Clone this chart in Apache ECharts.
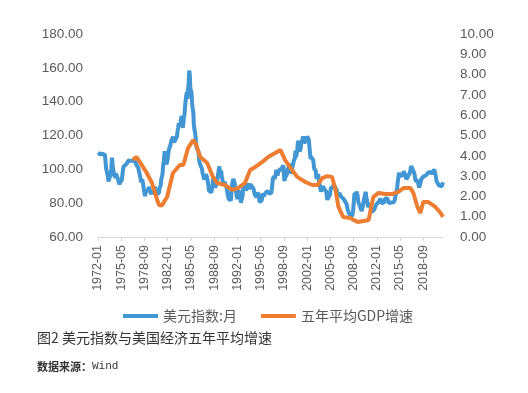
<!DOCTYPE html>
<html><head><meta charset="utf-8">
<script src="https://cdn.jsdelivr.net/npm/echarts@6/dist/echarts.min.js"></script>
<style>html,body{margin:0;padding:0;background:#fff}#c{width:528px;height:393px}</style>
</head><body><div id="c"></div>
<script>
// Monthly categories 1972-01 .. 2021-07
const startYear = 1972, endYear = 2021, endMonth = 7;
const months = [];
for (let y = startYear; y <= endYear; y++) {
  for (let m = 1; m <= 12; m++) {
    if (y === endYear && m > endMonth) break;
    months.push(y + '-' + (m < 10 ? '0' + m : m));
  }
}
// 美元指数:月 (left axis), one row per year
const dollarIndex = [
  109.9,109.0,108.9,109.5,108.9,109.3,108.6,108.8,109.2,109.5,109.8,109.9, // 1972
  108.5,104.5,100.5,98.9,97.3,95.9,92.8,93.6,93.3,93.0,97.3,100.7,        // 1973
  106.9,103.0,100.4,98.3,96.3,96.2,95.1,97.5,98.3,96.6,94.6,93.5,         // 1974
  92.3,91.0,92.4,93.1,92.4,93.6,96.6,99.6,101.6,101.3,101.2,102.4,        // 1975
  102.8,102.7,103.7,104.1,105.3,105.2,105.2,105.3,105.0,104.8,104.9,105.0, // 1976
  105.1,105.6,105.6,105.3,105.4,104.3,102.6,102.7,102.6,101.2,100.8,98.3, // 1977
  96.6,94.9,92.3,93.3,94.2,93.3,90.8,87.9,87.6,84.1,86.6,86.8,            // 1978
  86.8,87.7,88.0,88.7,89.5,89.2,86.7,86.7,85.3,87.3,87.3,85.3,            // 1979
  85.0,85.9,89.7,89.4,86.8,85.2,84.1,84.9,84.7,86.1,88.8,89.8,            // 1980
  90.6,94.2,95.6,96.9,101.7,104.4,107.9,110.7,106.6,104.2,102.9,103.4,    // 1981
  106.1,109.3,111.5,112.1,110.9,114.8,116.8,117.5,118.2,119.4,120.2,115.9, // 1982
  116.3,117.3,117.4,118.4,119.5,122.5,124.7,127.3,125.7,124.6,127.2,129.9, // 1983
  131.6,127.2,124.5,127.4,131.1,132.3,137.6,138.1,143.9,145.5,141.6,147.2, // 1984
  150.4,158.4,156.2,147.8,148.6,145.4,139.1,135.9,134.3,126.7,123.5,122.3, // 1985
  119.2,114.3,112.5,113.0,112.2,110.4,106.0,103.8,104.0,103.1,103.0,100.4, // 1986
  97.8,97.6,97.0,94.0,93.8,95.6,97.2,96.6,95.0,95.0,90.6,87.5,            // 1987
  87.6,88.3,86.6,86.3,87.1,89.6,93.7,95.4,95.0,92.5,89.1,90.1,            // 1988
  92.6,92.3,94.9,95.2,100.1,101.8,97.6,98.7,99.3,95.9,94.3,92.1,          // 1989
  90.8,90.5,92.6,92.0,90.6,91.1,88.2,85.6,85.0,82.6,82.4,83.0,            // 1990
  82.4,81.6,88.5,91.2,91.2,94.4,94.6,92.2,90.0,89.3,86.0,83.8,            // 1991
  82.4,85.3,87.6,87.0,85.6,83.6,80.3,79.5,80.1,84.6,88.9,88.2,            // 1992
  90.0,91.4,90.3,87.4,86.4,88.5,91.7,91.1,88.2,89.0,91.2,90.9,            // 1993
  91.9,90.9,89.5,89.2,88.2,87.6,85.0,85.7,84.9,83.6,84.5,86.3,            // 1994
  86.0,84.3,80.6,79.5,81.6,81.4,81.7,84.4,85.8,84.0,84.3,84.5,            // 1995
  85.9,85.9,85.9,86.9,87.2,86.8,86.0,85.1,86.1,87.0,85.6,87.3,            // 1996
  90.6,94.3,94.1,95.9,94.4,94.0,96.7,99.8,97.9,96.3,96.6,99.0,            // 1997
  99.9,99.7,100.3,99.0,99.1,101.0,101.6,102.4,97.5,93.1,95.0,94.4,        // 1998
  93.9,96.8,99.4,100.5,101.0,103.3,102.4,99.9,98.9,97.4,100.0,101.6,      // 1999
  101.9,104.8,105.4,106.7,111.1,107.2,108.2,111.0,115.6,116.8,115.4,110.5, // 2000
  110.1,112.3,115.9,116.8,117.5,119.5,119.0,115.5,114.4,115.3,116.9,116.7, // 2001
  119.4,119.8,118.6,117.6,113.3,109.8,106.0,107.2,107.3,107.4,105.8,104.4, // 2002
  100.6,99.9,100.3,99.1,94.4,94.0,95.5,97.2,94.6,92.1,91.6,88.4,          // 2003
  86.8,87.1,88.7,90.0,90.7,88.8,87.9,88.8,88.8,86.8,83.5,81.9,            // 2004
  83.1,84.1,83.3,84.6,86.5,88.9,89.5,88.2,88.9,90.0,91.4,90.3,            // 2005
  89.2,90.3,90.0,87.9,84.8,85.7,85.8,84.9,85.8,86.4,84.9,83.6,            // 2006
  84.7,84.3,83.3,82.4,82.2,82.6,80.7,81.4,79.5,77.9,75.9,76.4,            // 2007
  76.0,75.4,72.5,72.6,72.8,72.8,72.5,75.2,78.4,83.6,86.1,82.6,            // 2008
  83.4,86.9,86.6,84.5,81.2,79.9,79.3,78.6,77.0,75.9,75.4,76.9,            // 2009
  78.2,80.5,80.4,81.2,85.5,86.7,83.3,82.0,81.4,77.6,78.4,80.0,            // 2010
  79.1,77.8,76.5,74.7,75.0,74.8,74.6,74.5,76.4,77.6,77.9,79.2,            // 2011
  80.1,78.8,79.4,79.4,81.1,82.1,82.7,82.0,79.9,79.7,80.5,80.0,            // 2012
  79.8,80.6,82.5,82.5,83.0,82.3,83.0,81.8,81.1,80.0,80.8,80.4,            // 2013
  80.7,80.4,79.9,79.9,80.0,80.5,80.6,81.9,84.1,85.4,87.3,88.6,            // 2014
  92.4,94.5,98.0,97.7,95.5,95.6,97.0,96.0,95.9,95.7,98.9,98.6,            // 2015
  99.1,97.0,96.1,94.1,94.3,95.3,96.1,95.3,95.4,97.9,99.8,101.9,           // 2016
  101.0,100.5,100.6,99.6,98.2,97.0,94.8,93.0,92.4,93.5,93.6,93.2,         // 2017
  90.5,89.2,89.8,90.3,93.3,94.5,94.6,95.2,94.6,95.9,96.7,96.8,            // 2018
  95.8,96.5,96.9,97.3,97.8,97.0,97.2,98.0,98.6,97.9,97.9,97.4,            // 2019
  97.2,98.7,99.4,100.0,99.6,97.0,95.2,92.9,93.3,93.6,92.4,90.5,           // 2020
  90.3,90.4,91.6,91.5,90.0,90.8,92.4                                      // 2021
];
// 五年平均GDP增速 (right axis), read at turning points
const gdpMonths = ['1977-01','1977-07','1978-01','1979-01','1979-10','1980-07','1980-10','1981-03','1981-12','1982-10','1983-10','1984-04','1984-12','1985-09','1986-02','1986-09','1987-09','1988-07','1989-02','1990-04','1991-04','1992-02','1993-02','1993-11','1994-08','1995-08','1996-06','1997-06','1998-03','1998-11','1999-11','2000-08','2001-10','2002-10','2003-07','2004-03','2004-12','2005-08','2006-02','2006-07','2007-03','2008-03','2009-04','2010-02','2010-11','2011-07','2012-04','2013-04','2014-04','2015-02','2015-11','2016-11','2017-04','2017-11','2018-04','2018-09','2019-06','2020-06','2021-03','2021-07'];
const gdpValues = [3.80,3.94,3.70,3.15,2.66,1.82,1.58,1.55,1.97,3.15,3.55,3.55,4.38,4.78,4.55,3.94,3.65,2.96,2.66,2.56,2.32,2.41,2.66,3.30,3.45,3.70,3.94,4.14,4.29,3.80,3.30,2.96,2.71,2.56,2.56,2.90,3.00,2.96,2.32,1.48,0.99,0.94,0.74,0.79,0.84,1.97,2.17,2.12,2.12,2.22,2.41,2.41,2.17,1.48,1.18,1.72,1.72,1.48,1.18,0.99];
const leftTicks = {min: 60, max: 180, interval: 20};
const rightTicks = {min: 0, max: 10, interval: 1};
const seriesNames = ['美元指数:月', '五年平均GDP增速'];
const titleText = '图2 美元指数与美国经济五年平均增速';

const gdpData = gdpMonths.map((m, i) => [m, gdpValues[i]]);
const chart = echarts.init(document.getElementById('c'), null, {renderer: 'canvas'});
const axisFont = 'Liberation Sans';
chart.setOption({
  animation: false,
  backgroundColor: '#fff',
  grid: {left: 98, right: 85, top: 34, bottom: 156, containLabel: false},
  legend: {
    left: 118, top: 304, itemWidth: 35, itemHeight: 4, itemGap: 24,
    icon: 'rect',
    textStyle: {color: '#595959', fontSize: 14, fontFamily: 'Noto Sans CJK SC'},
    data: seriesNames
  },
  xAxis: {
    type: 'category', data: months, boundaryGap: false,
    axisLine: {lineStyle: {color: '#d9d9d9'}},
    axisTick: {interval: 39, length: 4, lineStyle: {color: '#d9d9d9'}},
    axisLabel: {interval: 39, rotate: 90, margin: 8, color: '#595959', fontSize: 12.5, fontFamily: axisFont},
    splitLine: {show: false}
  },
  yAxis: [
    {type: 'value', min: leftTicks.min, max: leftTicks.max, interval: leftTicks.interval,
     axisLine: {show: false}, axisTick: {show: false}, splitLine: {show: false},
     axisLabel: {margin: 15, color: '#595959', fontSize: 13.5, fontFamily: axisFont, formatter: v => v.toFixed(2)}},
    {type: 'value', min: rightTicks.min, max: rightTicks.max, interval: rightTicks.interval,
     axisLine: {show: false}, axisTick: {show: false}, splitLine: {show: false},
     axisLabel: {margin: 17, color: '#595959', fontSize: 13.5, fontFamily: axisFont, formatter: v => v.toFixed(2)}}
  ],
  series: [
    {name: seriesNames[0], type: 'line', yAxisIndex: 0, data: dollarIndex, showSymbol: false,
     lineStyle: {color: '#4296d3', width: 4}, itemStyle: {color: '#4296d3'}, z: 2},
    {name: seriesNames[1], type: 'line', yAxisIndex: 1, data: gdpData, showSymbol: false,
     lineStyle: {color: '#ED7D31', width: 4}, itemStyle: {color: '#ED7D31'}, z: 3}
  ],
  graphic: [
    {type: 'text', left: 37, top: 331, style: {text: titleText, fill: '#333', font: '14px "Noto Sans CJK SC"'}},
    {type: 'text', left: 37, top: 361, style: {
      text: '{a|数据来源：}{b|Wind}',
      rich: {a: {fill: '#333', fontSize: 11, fontFamily: 'Noto Sans CJK SC', fontWeight: 'bold'},
             b: {fill: '#333', fontSize: 11, fontFamily: 'Liberation Mono'}}
    }}
  ]
});
</script></body></html>
